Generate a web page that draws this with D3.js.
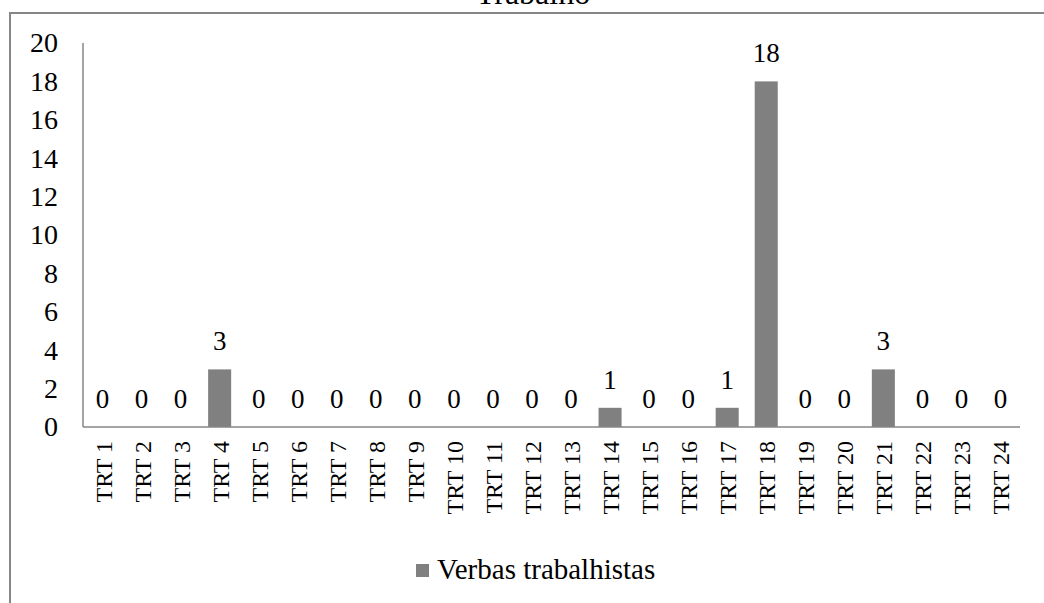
<!DOCTYPE html>
<html>
<head>
<meta charset="utf-8">
<script src="https://cdn.jsdelivr.net/npm/d3@7"></script>
<style>
  html, body { margin: 0; padding: 0; background: #fff; }
  svg { display: block; }
</style>
</head>
<body>
<svg id="chart" width="1044" height="603"></svg>
<script>
// Categories and values for the single series
const categories = ["TRT 1","TRT 2","TRT 3","TRT 4","TRT 5","TRT 6","TRT 7","TRT 8","TRT 9","TRT 10","TRT 11","TRT 12","TRT 13","TRT 14","TRT 15","TRT 16","TRT 17","TRT 18","TRT 19","TRT 20","TRT 21","TRT 22","TRT 23","TRT 24"];
const values = [0,0,0,3,0,0,0,0,0,0,0,0,0,1,0,0,1,18,0,0,3,0,0,0];
const yTicks = [0,2,4,6,8,10,12,14,16,18,20];
const seriesName = "Verbas trabalhistas";
const titleText = "Trabalho";

const FONT = "'Liberation Serif', 'Times New Roman', serif";

const svg = d3.select("#chart");
const barColor = "#808080";
const lineColor = "#868686";

// Outer chart-area frame
svg.append("rect")
  .attr("x", 10).attr("y", 13)
  .attr("width", 1060).attr("height", 620)
  .attr("fill", "none")
  .attr("stroke", lineColor)
  .attr("stroke-width", 2);

// Title
svg.append("text")
  .attr("x", 533).attr("y", 4)
  .attr("text-anchor", "middle")
  .style("font-family", FONT)
  .style("font-size", "32px")
  .attr("fill", "#000")
  .text(titleText);

const plot = { left: 83, right: 1020, top: 43, bottom: 427 };

const x = d3.scaleBand()
  .domain(categories)
  .range([plot.left, plot.right])
  .paddingInner(0.41)
  .paddingOuter(0.205);

const y = d3.scaleLinear()
  .domain([0, 20])
  .range([plot.bottom, plot.top]);

// Y axis labels (no tick marks)
const yAxis = svg.append("g")
  .attr("transform", `translate(${plot.left},0)`)
  .call(d3.axisLeft(y).tickValues(yTicks).tickSize(0).tickPadding(25));
yAxis.select(".domain").remove();
yAxis.selectAll("text")
  .style("font-family", FONT)
  .style("font-size", "28px")
  .attr("fill", "#000");

// Y axis line
svg.append("line")
  .attr("x1", plot.left).attr("x2", plot.left)
  .attr("y1", y(20)).attr("y2", y(0))
  .attr("stroke", lineColor).attr("stroke-width", 1.5);

// Bars
svg.append("g").selectAll("rect")
  .data(values)
  .join("rect")
  .attr("x", (d, i) => x(categories[i]))
  .attr("y", d => y(d))
  .attr("width", x.bandwidth())
  .attr("height", d => y(0) - y(d))
  .attr("fill", barColor);

// X axis line
svg.append("line")
  .attr("x1", plot.left).attr("x2", plot.right)
  .attr("y1", y(0)).attr("y2", y(0))
  .attr("stroke", lineColor).attr("stroke-width", 1.5);

// Value labels above bars
svg.append("g").selectAll("text")
  .data(values)
  .join("text")
  .attr("x", (d, i) => x(categories[i]) + x.bandwidth() / 2)
  .attr("y", d => y(d) - 19)
  .attr("text-anchor", "middle")
  .style("font-family", FONT)
  .style("font-size", "27px")
  .attr("fill", "#000")
  .text(d => d);

// Category labels, rotated
const xAxis = svg.append("g")
  .attr("transform", `translate(0,${plot.bottom})`)
  .call(d3.axisBottom(x).tickSize(0).tickPadding(0));
xAxis.select(".domain").remove();
xAxis.selectAll("text")
  .style("font-family", FONT)
  .style("font-size", "24px")
  .attr("fill", "#000")
  .attr("text-anchor", "end")
  .attr("dy", null)
  .attr("dominant-baseline", "central")
  .attr("transform", "translate(1,14) rotate(-90)")
  .attr("x", 0).attr("y", 0);

// Legend
const legend = svg.append("g");
legend.append("rect")
  .attr("x", 416).attr("y", 564)
  .attr("width", 13).attr("height", 13)
  .attr("fill", barColor);
legend.append("text")
  .attr("x", 437).attr("y", 579)
  .style("font-family", FONT)
  .style("font-size", "29px")
  .attr("fill", "#000")
  .text(seriesName);
</script>
</body>
</html>
